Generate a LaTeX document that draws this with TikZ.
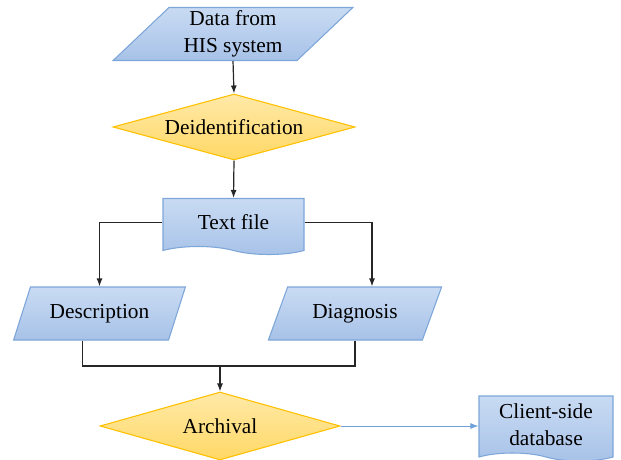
\documentclass[tikz,border=0pt]{standalone}
\usepackage{fontspec}
\setmainfont{Liberation Serif}
\usetikzlibrary{shapes.geometric,shapes.symbols,arrows.meta}
\definecolor{blueTop}{HTML}{C9DBF3}
\definecolor{blueBot}{HTML}{A7C2E8}
\definecolor{blueLine}{HTML}{7DA6D9}
\definecolor{goldTop}{HTML}{FFE9A8}
\definecolor{goldBot}{HTML}{FFD865}
\definecolor{goldLine}{HTML}{FFC000}
\definecolor{linkBlue}{HTML}{6FA0D8}

\begin{document}
\begin{tikzpicture}[x=0.75pt,y=-0.75pt,
  font=\fontsize{16}{20}\selectfont,
  blk/.style={top color=blueTop,bottom color=blueBot,draw=blueLine,line width=0.8pt,
    align=center,inner sep=0pt},
  para/.style={blk,trapezium,trapezium stretches=true},
  doc/.style={blk,tape,tape bend top=none,tape bend bottom=out and in,tape bend height=6pt},
  gold/.style={top color=goldTop,bottom color=goldBot,draw=goldLine,line width=0.8pt,
    diamond,aspect=3.6,inner sep=0pt},
  conn/.style={draw=black!85,line width=0.9pt,-{Latex[length=6pt,width=4.5pt]}},
  wire/.style={draw=black!85,line width=0.9pt}]
  \useasboundingbox (0,0) rectangle (621,460);

  % shapes
  \node [para, trapezium left angle=47, trapezium right angle=133,
         minimum width=180pt, minimum height=39.75pt] (his) at (233,34) {Data from\\HIS system};
  \node [gold, minimum width=181.5pt, minimum height=49.5pt] (deid) at (234,127) {Deidentification};
  \node [doc, minimum width=105.75pt, minimum height=42pt] (txt) at (233.5,222.5) {Text file};
  \node [para, trapezium left angle=57, trapezium right angle=123,
         minimum width=129.75pt, minimum height=39.75pt] (desc) at (99.5,313.5) {Description};
  \node [para, trapezium left angle=57, trapezium right angle=123,
         minimum width=130.5pt, minimum height=39.75pt] (diag) at (355,313.5) {Diagnosis};
  \node [gold, minimum width=180pt, minimum height=51pt] (arch) at (220,426) {Archival};
  \node [doc, minimum width=100.5pt, minimum height=48.75pt] (client) at (546,424.5) {Client-side\\database};

  % connectors
  \coordinate (join) at (220,366);
  \draw [conn] (his.south) -- (deid.north);
  \draw [conn] (deid.south) -- (txt.north);
  \draw [conn] (txt.west) -| (desc.north);
  \draw [conn] (txt.east) -| ([xshift=12.75pt]diag.north);
  \draw [wire] ([xshift=-12.75pt]desc.south) |- (join) -| (diag.south);
  \draw [conn] (join) -- (arch.north);
  \draw [draw=linkBlue, line width=0.7pt, -{Latex[length=6pt,width=4.5pt]}]
        (arch.east) -- (arch.east -| client.west);
\end{tikzpicture}
\end{document}
